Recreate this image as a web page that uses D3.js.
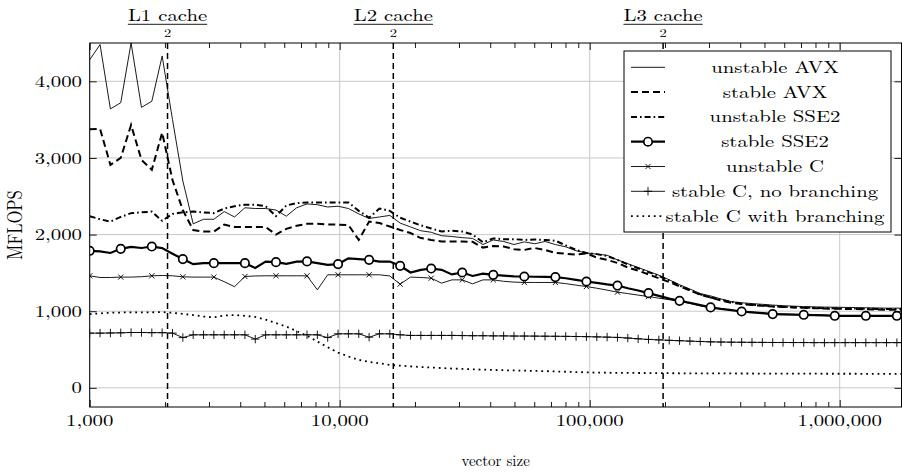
<!DOCTYPE html>
<html><head><meta charset="utf-8">
<script src="https://cdn.jsdelivr.net/npm/d3@7"></script>
<style>
body{margin:0;background:#fff}
svg{display:block}
text{font-family:"Latin Modern Roman","CMU Serif","Liberation Serif","Times New Roman",serif;fill:#000}
</style>
</head><body><svg id="c" width="902" height="475"></svg>
<script>
// ---------------- data ----------------
const sizes = [1000,1100,1210,1331,1464,1611,1772,1949,2144,2358,2594,2853,3138,3452,3797,4177,4595,5054,5560,6116,6727,7400,8140,8954,9850,10835,11918,13110,14421,15863,17449,19194,21114,23225,25548,28102,30913,34004,37404,41145,45259,49785,54764,60240,66264,72890,80180,88197,97017,106719,117391,129130,142043,156247,171872,189059,207965,228762,251638,276801,304482,334930,368423,405265,445792,490371,539408,593349,652683,717952,789747,868722,955594,1051153,1156269,1271895,1399085,1538993,1692893,1862182];

const unstableAVX = [4280,4480,3640,3720,4500,3660,3740,4330,3500,2700,2140,2200,2200,2300,2230,2350,2340,2340,2320,2240,2350,2400,2390,2360,2370,2340,2270,2210,2230,2250,2150,2100,2050,2030,1985,1975,1960,1950,1870,1930,1910,1870,1905,1880,1910,1870,1840,1790,1760,1745,1730,1670,1620,1570,1520,1470,1410,1345,1290,1230,1200,1160,1125,1110,1100,1090,1080,1072,1066,1060,1057,1054,1052,1050,1048,1045,1043,1040,1040,1040];
const stableAVX = [3376,3380,2910,3000,3430,2975,2845,3330,2710,2320,2060,2040,2040,2130,2100,2100,2100,2100,2000,2075,2115,2140,2140,2130,2130,2125,1930,2170,2150,2105,2060,2020,1955,1930,1910,1910,1910,1905,1830,1850,1845,1810,1800,1825,1800,1760,1750,1740,1755,1700,1670,1630,1570,1530,1480,1430,1380,1325,1270,1215,1180,1140,1110,1095,1080,1070,1060,1055,1050,1045,1040,1035,1032,1030,1028,1025,1022,1020,1020,1020];
const unstableSSE2 = [2240,2200,2170,2230,2280,2290,2300,2180,2270,2290,2300,2290,2280,2340,2370,2390,2390,2370,2240,2380,2410,2420,2420,2420,2420,2420,2310,2220,2340,2310,2220,2170,2120,2080,2040,2050,2040,2000,1900,1950,1940,1940,1930,1935,1930,1920,1860,1800,1760,1745,1720,1670,1610,1560,1510,1460,1400,1335,1275,1220,1180,1150,1120,1100,1085,1075,1065,1058,1052,1048,1044,1040,1038,1036,1034,1032,1030,1030,1030,1030];
const stableSSE2 = [1788,1780,1760,1814,1840,1825,1844,1823,1750,1680,1614,1627,1627,1627,1627,1627,1565,1648,1640,1618,1648,1650,1627,1605,1615,1690,1680,1670,1648,1648,1592,1505,1540,1557,1540,1480,1505,1460,1490,1475,1465,1455,1453,1450,1448,1445,1430,1410,1388,1370,1350,1335,1300,1270,1236,1200,1165,1135,1110,1080,1050,1030,1015,996,985,975,962,958,955,953,950,945,940,940,940,940,940,940,940,940];
const unstableC = [1462,1440,1440,1445,1445,1450,1462,1466,1462,1449,1445,1445,1445,1385,1320,1453,1460,1462,1462,1462,1462,1462,1279,1475,1475,1475,1475,1475,1475,1460,1353,1445,1440,1431,1366,1409,1409,1357,1409,1409,1390,1380,1375,1375,1375,1375,1360,1340,1322,1300,1275,1249,1230,1210,1191,1170,1150,1130,1100,1070,1045,1030,1015,1000,988,978,966,962,958,956,953,948,944,943,943,943,943,943,943,943];
const stableCNoBranch = [714,714,716,718,722,722,720,720,714,656,692,692,692,692,692,692,636,692,692,692,692,692,692,656,705,705,705,661,705,705,692,684,684,684,684,684,682,680,680,678,678,676,676,675,674,673,672,670,668,665,662,658,650,640,632,626,620,615,610,605,600,598,596,595,594,593,592,592,591,591,590,590,590,590,590,590,590,590,590,590];
const stableCBranch = [962,972,980,983,985,985,986,988,980,965,950,930,920,945,950,940,925,890,845,800,740,680,605,530,460,410,365,340,320,300,290,280,272,265,258,252,247,242,238,234,230,227,224,221,218,214,210,206,202,199,197,196,195,194,193,192,191,190,190,189,189,188,188,187,187,186,186,186,185,185,185,184,184,184,184,183,183,183,183,183];

const seriesNames = ["unstable AVX","stable AVX","unstable SSE2","stable SSE2","unstable C","stable C, no branching","stable C with branching"];
const yTicks = [0,1000,2000,3000,4000];
const xTicks = [1000,10000,100000,1000000];
const cacheLabels = ["L1 cache","L2 cache","L3 cache"];
const cacheSizes = [2048,16384,196608];
const xLabel = "vector size";
const yLabel = "MFLOPS";

// ---------------- layout ----------------
const L = 89.7, R = 901.5, T = 43, B = 407;
const FS = 16.5, SX = 1.26;
const x = d3.scaleLog().domain([1000, 1766700]).range([L, R]);
const y = d3.scaleLinear().domain([-250, 4500]).range([B, T]);
const svg = d3.select("#c");
svg.append("defs").append("clipPath").attr("id","clip")
  .append("rect").attr("x",L).attr("y",T).attr("width",R-L).attr("height",B-T);

// grid
const grid = svg.append("g").attr("stroke","#c8c8c8").attr("stroke-width",1);
grid.selectAll("line.h").data(yTicks).join("line").attr("class","h")
  .attr("x1",L).attr("x2",R).attr("y1",d=>y(d)).attr("y2",d=>y(d));
grid.selectAll("line.v").data(xTicks).join("line").attr("class","v")
  .attr("y1",T).attr("y2",B).attr("x1",d=>x(d)).attr("x2",d=>x(d));

// series styles
const styles = [
  {w:0.9, dash:null, mark:null},
  {w:2.0, dash:"7,4", mark:null},
  {w:2.0, dash:"6,3,1.6,3", mark:null},
  {w:2.2, dash:null, mark:"o", every:3},
  {w:0.9, dash:null, mark:"x", every:3},
  {w:0.9, dash:null, mark:"+", every:1},
  {w:1.8, dash:"1.8,3.9", mark:null}
];
const allValues = [unstableAVX, stableAVX, unstableSSE2, stableSSE2, unstableC, stableCNoBranch, stableCBranch];

const plot = svg.append("g").attr("clip-path","url(#clip)");
const line = d3.line().x((d,i)=>x(sizes[i])).y(d=>y(d));

function drawMark(sel, type, cx, cy){
  if(type==="o"){
    sel.append("circle").attr("cx",cx).attr("cy",cy).attr("r",4.2)
      .attr("fill","#fff").attr("stroke","#000").attr("stroke-width",1.7);
  } else if(type==="x"){
    const s=2.6;
    sel.append("path").attr("d",`M${cx-s},${cy-s}L${cx+s},${cy+s}M${cx-s},${cy+s}L${cx+s},${cy-s}`)
      .attr("stroke","#000").attr("stroke-width",0.9).attr("fill","none");
  } else if(type==="+"){
    const s=4.2;
    sel.append("path").attr("d",`M${cx},${cy-s}L${cx},${cy+s}M${cx-s},${cy}L${cx+s},${cy}`)
      .attr("stroke","#000").attr("stroke-width",0.9).attr("fill","none");
  }
}

[6,5,4,0,1,2,3].forEach(si=>{
  const st = styles[si], vals = allValues[si];
  plot.append("path").datum(vals).attr("d",line)
    .attr("fill","none").attr("stroke","#000").attr("stroke-width",st.w)
    .attr("stroke-dasharray",st.dash);
  if(st.mark){
    const mg = plot.append("g");
    vals.forEach((v,i)=>{ if(i%st.every===0) drawMark(mg, st.mark, x(sizes[i]), y(v)); });
  }
});

// cache lines
svg.append("g").selectAll("line").data(cacheSizes).join("line")
  .attr("x1",d=>x(d)).attr("x2",d=>x(d)).attr("y1",T).attr("y2",B)
  .attr("stroke","#000").attr("stroke-width",1.5).attr("stroke-dasharray","6,4");

// axes (ticks from d3 axes, labels placed from the same scales)
function styleAxis(g){ g.select(".domain").remove(); g.selectAll("line").attr("stroke","#000").attr("stroke-width",0.9); g.selectAll("text").remove(); }
const fmt = d3.format(",");
const minor = x.ticks().filter(d=>!xTicks.includes(d));

styleAxis(svg.append("g").attr("transform",`translate(0,${B})`)
  .call(d3.axisBottom(x).tickValues(xTicks).tickSize(-7)));
styleAxis(svg.append("g").attr("transform",`translate(0,${B})`)
  .call(d3.axisBottom(x).tickValues(minor).tickSize(-5)));
styleAxis(svg.append("g").attr("transform",`translate(0,${T})`)
  .call(d3.axisTop(x).tickValues(xTicks).tickSize(-7)));
styleAxis(svg.append("g").attr("transform",`translate(0,${T})`)
  .call(d3.axisTop(x).tickValues(minor).tickSize(-5)));
styleAxis(svg.append("g").attr("transform",`translate(${L},0)`)
  .call(d3.axisLeft(y).tickValues(yTicks).tickSize(-7)));
styleAxis(svg.append("g").attr("transform",`translate(${R},0)`)
  .call(d3.axisRight(y).tickValues(yTicks).tickSize(-7)));

svg.append("g").selectAll("text").data(xTicks).join("text")
  .attr("text-anchor","middle").style("font-size",FS+"px")
  .attr("transform",d=>`translate(${x(d)},${B+19}) scale(${SX},1)`).text(fmt);
svg.append("g").selectAll("text").data(yTicks).join("text")
  .attr("text-anchor","end").style("font-size",FS+"px")
  .attr("transform",d=>`translate(${L-7.7},${y(d)+5.6}) scale(${SX},1)`).text(fmt);

// frame
svg.append("rect").attr("x",L).attr("y",T).attr("width",R-L).attr("height",B-T)
  .attr("fill","none").attr("stroke","#000").attr("stroke-width",1);

// cache labels (fractions  X / 2)
cacheSizes.forEach((s,i)=>{
  const cx = x(s);
  const t = svg.append("text").attr("text-anchor","middle").style("font-size",FS+"px")
    .attr("transform",`translate(${cx},21) scale(${SX},1)`).text(cacheLabels[i]);
  const w = t.node().getBBox().width*SX;
  svg.append("line").attr("x1",cx-w/2).attr("x2",cx+w/2).attr("y1",24.3).attr("y2",24.3)
    .attr("stroke","#000").attr("stroke-width",0.9);
  svg.append("text").attr("text-anchor","middle").style("font-size","11.5px")
    .attr("transform",`translate(${cx},37) scale(${SX},1)`).text("2");
});

// axis titles
svg.append("text").attr("text-anchor","middle").style("font-size","15px")
  .attr("transform",`translate(${(L+R)/2},466)`).text(xLabel);
svg.append("text").attr("text-anchor","middle").style("font-size",FS+"px")
  .attr("transform",`translate(22,${(T+B)/2}) rotate(-90) scale(1,${SX})`).text(yLabel);

// legend
const lg = svg.append("g");
lg.append("rect").attr("x",624).attr("y",51).attr("width",267).attr("height",181)
  .attr("fill","#fff").attr("stroke","#000").attr("stroke-width",1);
seriesNames.forEach((n,i)=>{
  const cy = 67.3 + i*24.8, st = styles[i];
  lg.append("line").attr("x1",631).attr("x2",665).attr("y1",cy).attr("y2",cy)
    .attr("stroke","#000").attr("stroke-width",st.w).attr("stroke-dasharray",st.dash);
  if(st.mark) drawMark(lg, st.mark, 648, cy);
  lg.append("text").attr("text-anchor","middle").style("font-size",FS+"px")
    .attr("transform",`translate(775,${cy+5.5}) scale(${SX},1)`).text(n);
});
</script>
</body></html>
